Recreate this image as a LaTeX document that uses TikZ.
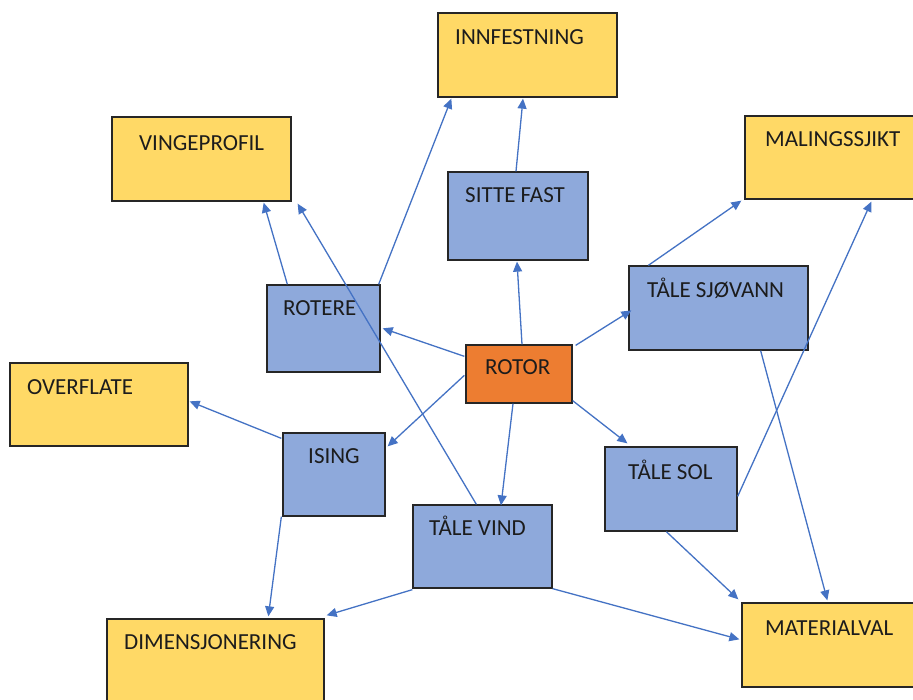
\documentclass[tikz,border=0pt]{standalone}
\usepackage{fontspec}
\setmainfont{Carlito}
\usetikzlibrary{arrows.meta,calc}
\definecolor{ygold}{HTML}{FFD966}
\definecolor{lblue}{HTML}{8EA9DB}
\definecolor{orng}{HTML}{ED7D31}
\definecolor{arrc}{HTML}{4472C4}
\definecolor{edgec}{HTML}{262626}
\definecolor{txtc}{HTML}{1C1C1C}
\tikzset{
  boxbase/.style={draw=edgec, line width=1.3pt, rectangle, inner sep=0pt},
  ybox/.style={boxbase, fill=ygold},
  bbox/.style={boxbase, fill=lblue},
  obox/.style={boxbase, fill=orng},
  lbl/.style={anchor=base west, inner sep=0pt, text=txtc, font=\fontsize{23}{27}\selectfont},
  arr/.style={draw=arrc, line width=1.3pt, -{Triangle[length=10pt,width=9pt]}},
}
\begin{document}
\begin{tikzpicture}[x=1pt,y=-1pt]
\useasboundingbox (0,0) rectangle (913,699);
\clip (0,0) rectangle (913,699);
\fill[white] (0,0) rectangle (913,699);

% boxes
\node[ybox, minimum width=179pt, minimum height=84pt] (inn) at (527.5,55) {};
\node[ybox, minimum width=179pt, minimum height=84pt] (vinge) at (201.5,159) {};
\node[ybox, minimum width=179pt, minimum height=83pt] (maling) at (834.5,157.5) {};
\node[bbox, minimum width=140pt, minimum height=88pt] (sitte) at (518,216) {};
\node[bbox, minimum width=113pt, minimum height=87pt] (roter) at (323.5,328.5) {};
\node[bbox, minimum width=179pt, minimum height=84pt] (sjo) at (718.5,308) {};
\node[obox, minimum width=106pt, minimum height=58pt] (rotor) at (519,374) {};
\node[ybox, minimum width=178pt, minimum height=83pt] (over) at (99,404.5) {};
\node[bbox, minimum width=102pt, minimum height=83pt] (ising) at (334,474.5) {};
\node[bbox, minimum width=132pt, minimum height=84pt] (sol) at (671,489) {};
\node[bbox, minimum width=139pt, minimum height=83pt] (vind) at (482.5,546.5) {};
\node[ybox, minimum width=217pt, minimum height=83pt] (dim) at (215.5,660.5) {};
\node[ybox, minimum width=179pt, minimum height=84pt] (mat) at (831.5,645) {};

% labels
\node[lbl] (innT) at (455,44.4) {INNFESTNING};
\node[lbl] (vingeT) at (139,150.4) {VINGEPROFIL};
\node[lbl] (malingT) at (765,146.4) {MALINGSSJIKT};
\node[lbl] (sitteT) at (465,202.4) {SITTE FAST};
\node[lbl] (roterT) at (283,315.4) {ROTERE};
\node[lbl] (sjoT) at (647,297) {TÅLE SJØVANN};
\node[lbl] (rotorT) at (485,374.4) {ROTOR};
\node[lbl] (overT) at (27,394.4) {OVERFLATE};
\node[lbl] (isingT) at (308,463.4) {ISING};
\node[lbl] (solT) at (628,479.4) {TÅLE SOL};
\node[lbl] (vindT) at (429,535.4) {TÅLE VIND};
\node[lbl] (dimT) at (124,649.4) {DIMENSJONERING};
\node[lbl] (matT) at (765,635.4) {MATERIALVAL};

% connectors
\draw[arr] ($(rotor.north west)+(-1,12)$) -- ($(roter.north east)+(2,44)$);
\draw[arr] ($(rotor.north)+(3,0)$) -- ($(sitte.south)+(-1,1)$);
\draw[arr] ($(rotor.north east)+(3,1)$) -- ($(sjo.north west)+(3,45)$);
\draw[arr] ($(rotor.north west)+(-1,31)$) -- ($(ising.north east)+(2,14)$);
\draw[arr] ($(rotor.south)+(-6,0)$) -- ($(vind.north)+(18.5,1)$);
\draw[arr] ($(rotor.south east)+(0,-3)$) -- ($(sol.north west)+(23,-3)$);
\draw[arr] ($(roter.north west)+(21,0)$) -- ($(vinge.south east)+(-28,1)$);
\draw[arr] ($(roter.north east)+(-2,0)$) -- ($(inn.south west)+(14,1)$);
\draw[arr] ($(vind.north west)+(64,0)$) -- ($(vinge.south east)+(6,2)$);
\draw[arr] ($(sitte.north)+(-2,0)$) -- ($(inn.south)+(-4.5,1)$);
\draw[arr] ($(sjo.north west)+(20,0)$) -- ($(maling.south west)+(-3,1)$);
\draw[arr] ($(sol.north east)+(0,50)$) -- ($(maling.south west)+(127,2)$);
\draw[arr] ($(sjo.south east)+(-48,0)$) -- ($(mat.north west)+(86,-2)$);
\draw[arr] ($(sol.south west)+(62,0)$) -- ($(mat.north west)+(-3,-3)$);
\draw[arr] ($(vind.south east)+(0,0)$) -- ($(mat.north west)+(-2,37)$);
\draw[arr] ($(vind.south west)+(0,1)$) -- ($(dim.north east)+(2,-3)$);
\draw[arr] ($(ising.south west)+(-1,0)$) -- ($(dim.north west)+(162,-2)$);
\draw[arr] ($(ising.north west)+(-1,6)$) -- ($(over.north east)+(1,39)$);
\end{tikzpicture}
\end{document}
